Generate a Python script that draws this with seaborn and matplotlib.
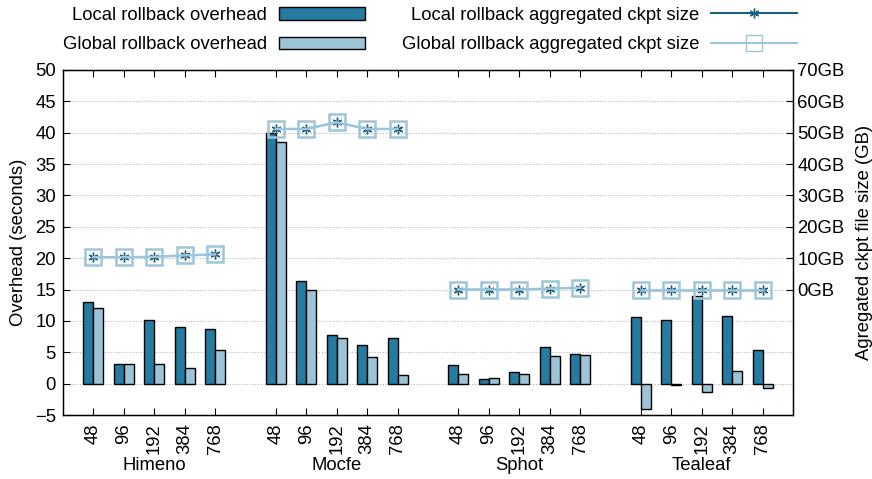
import numpy as np
import pandas as pd
import matplotlib
matplotlib.use("Agg")
import matplotlib.pyplot as plt
import seaborn as sns
from matplotlib.patches import Patch
from matplotlib.lines import Line2D

# Data
apps = ["Himeno", "Mocfe", "Sphot", "Tealeaf"]
procs = ["48", "96", "192", "384", "768"]

local_overhead = [13.0, 3.2, 10.1, 9.0, 8.7,
                  40.0, 16.3, 7.8, 6.1, 7.2,
                  3.0, 0.8, 1.8, 5.9, 4.7,
                  10.7, 10.1, 13.9, 10.8, 5.4]
global_overhead = [12.1, 3.1, 3.1, 2.5, 5.4,
                   38.5, 14.9, 7.3, 4.3, 1.3,
                   1.6, 0.9, 1.6, 4.4, 4.5,
                   -4.1, -0.2, -1.4, 2.0, -0.7]
local_ckpt_gb = [10.3, 10.3, 10.4, 10.9, 11.2,
                 51.2, 51.2, 53.3, 51.2, 51.2,
                 0.0, 0.0, 0.0, 0.3, 0.6,
                 0.0, 0.0, 0.0, 0.0, 0.0]
global_ckpt_gb = local_ckpt_gb

dark = "#267ba1"
light = "#9dc3d6"
line_dark = "#1f5f80"
line_light = "#9cc6da"
fs = 13.3

# positions: 5 bars per app, gap of one slot between apps
pos = [g * 6 + i for g in range(len(apps)) for i in range(len(procs))]

bars = pd.DataFrame({
    "pos": pos * 2,
    "value": local_overhead + global_overhead,
    "kind": ["local"] * len(pos) + ["global"] * len(pos),
})

plt.rcParams["font.family"] = ["Liberation Sans", "DejaVu Sans"]
plt.rcParams["font.size"] = fs

fig = plt.figure(figsize=(8.72, 4.79), dpi=100)
ax = fig.add_axes([0.0722, 0.1336, 0.8372, 0.7203])

ax.yaxis.grid(True, color="#b8b8b8", linestyle=(0, (1, 1.5)), linewidth=0.8)
ax.set_axisbelow(True)

sns.barplot(data=bars, x="pos", y="value", hue="kind", native_scale=True,
            hue_order=["local", "global"], palette=[dark, light],
            width=0.66, edgecolor="black", linewidth=1.0, saturation=1,
            legend=False, ax=ax)

ax.set_xlim(-1, 23)
ax.set_ylim(-5, 50)
ax.set_yticks(np.arange(-5, 51, 5))
ax.set_xticks(pos)
ax.set_xticklabels(procs * len(apps), rotation=90)
ax.set_xlabel("")
ax.set_ylabel("Overhead (seconds)", fontsize=fs, labelpad=6)
ax.tick_params(axis="x", direction="in", top=True, length=5, pad=6)
ax.tick_params(axis="y", direction="in", length=5, pad=5)
for s in ax.spines.values():
    s.set_linewidth(1.0)

for g, name in enumerate(apps):
    ax.text(g * 6 + 2, -0.145, name, transform=ax.get_xaxis_transform(),
            ha="center", va="center", fontsize=fs)

# Right axis: checkpoint size
ax2 = ax.twinx()
ax2.set_ylim(-40, 70)
ax2.set_yticks(np.arange(0, 71, 10))
ax2.set_yticklabels([f"{v}GB" for v in range(0, 71, 10)])
ax2.tick_params(axis="y", direction="in", length=5, pad=3)
ax2.set_ylabel("Agregated ckpt file size (GB)", fontsize=fs, labelpad=8)

for g in range(len(apps)):
    sl = slice(g * 5, g * 5 + 5)
    xs = pos[sl]
    sns.lineplot(x=xs, y=local_ckpt_gb[sl], color=line_dark, linewidth=1.0,
                 marker=(6, 2, 0), markersize=7, markeredgewidth=1.0,
                 markeredgecolor=line_dark, ax=ax2, zorder=3)
    sns.lineplot(x=xs, y=global_ckpt_gb[sl], color=line_light, linewidth=1.8,
                 marker="s", markersize=11, markerfacecolor="none",
                 markeredgewidth=1.8, markeredgecolor=line_light, ax=ax2, zorder=4)

handles = [
    Patch(facecolor=dark, edgecolor="black", label="Local rollback overhead"),
    Patch(facecolor=light, edgecolor="black", label="Global rollback overhead"),
    Line2D([], [], color=line_dark, marker=(6, 2, 0), markersize=7,
           label="Local rollback aggregated ckpt size"),
    Line2D([], [], color=line_light, marker="s", markersize=11,
           markerfacecolor="none", label="Global rollback aggregated ckpt size"),
]
fig.legend(handles=handles, ncol=2, markerfirst=False, frameon=False,
           loc="upper right", bbox_to_anchor=(0.9335, 1.021), fontsize=fs,
           handlelength=4.65, handletextpad=0.65, columnspacing=2.0,
           labelspacing=0.7)

fig.savefig("out.png", dpi=100)
